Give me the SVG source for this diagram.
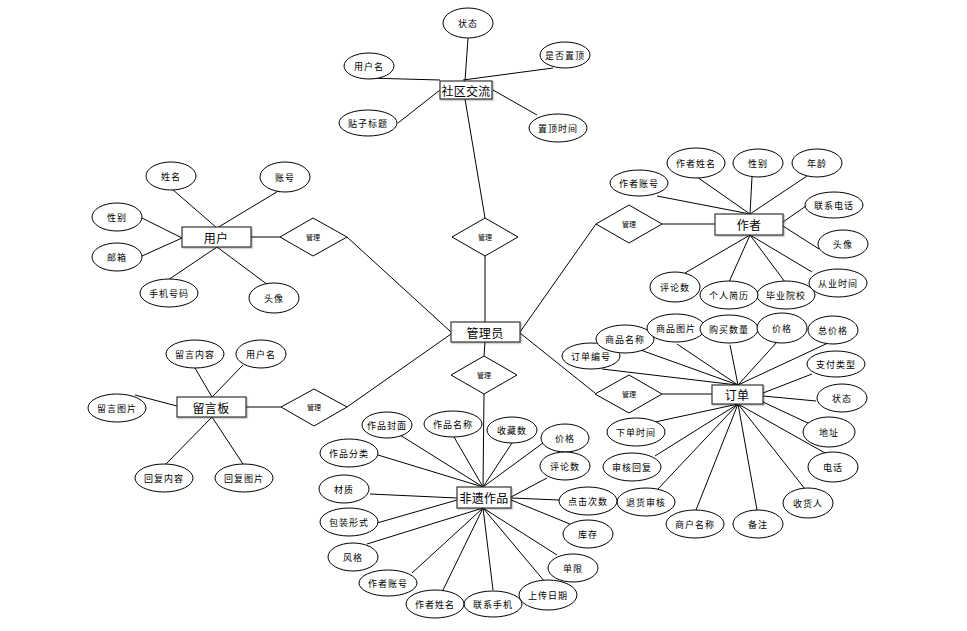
<svg xmlns="http://www.w3.org/2000/svg" width="967" height="631" viewBox="0 0 967 631">
<defs>
<filter id="sh" x="-10%" y="-20%" width="130%" height="160%">
<feDropShadow dx="1.2" dy="1.2" stdDeviation="0.7" flood-color="#000" flood-opacity="0.25"/>
</filter>
</defs>
<style>
.e{fill:#fff;stroke:#000;stroke-width:1}
.r{fill:#fff;stroke:#333;stroke-width:1.2;filter:url(#sh)}
.d{fill:#fff;stroke:#000;stroke-width:1}
.t{font-family:"Noto Sans CJK SC","Noto Sans",sans-serif;font-size:9px;letter-spacing:1px;text-anchor:middle;dominant-baseline:central;fill:#000}
.tb{font-family:"Noto Sans CJK SC","Noto Sans",sans-serif;font-size:12px;letter-spacing:0.3px;text-anchor:middle;dominant-baseline:central;fill:#000}
.td{font-family:"Noto Sans CJK SC","Noto Sans",sans-serif;font-size:7px;text-anchor:middle;dominant-baseline:central;fill:#000}
#connectors line{stroke:#000;stroke-width:1}
</style>
<rect width="967" height="631" fill="#fff"/>
<g id="connectors">
<line x1="468" y1="38" x2="465" y2="81"/>
<line x1="367" y1="78" x2="440" y2="80"/>
<line x1="553" y1="68" x2="463" y2="80"/>
<line x1="398" y1="123" x2="440" y2="90"/>
<line x1="493" y1="90" x2="537" y2="115"/>
<line x1="465" y1="99" x2="485" y2="218"/>
<line x1="485" y1="256" x2="485" y2="322"/>
<line x1="172" y1="189" x2="217" y2="228"/>
<line x1="280" y1="190" x2="217" y2="228"/>
<line x1="142" y1="218" x2="182" y2="238"/>
<line x1="142" y1="256" x2="182" y2="238"/>
<line x1="168" y1="280" x2="217" y2="247"/>
<line x1="268" y1="285" x2="217" y2="247"/>
<line x1="251" y1="237" x2="280" y2="237"/>
<line x1="347" y1="237" x2="451" y2="332"/>
<line x1="195" y1="368" x2="212" y2="397"/>
<line x1="243" y1="365" x2="212" y2="397"/>
<line x1="135" y1="395" x2="177" y2="406"/>
<line x1="166" y1="464" x2="212" y2="417"/>
<line x1="243" y1="464" x2="212" y2="417"/>
<line x1="246" y1="407" x2="281" y2="407"/>
<line x1="347" y1="407" x2="451" y2="334"/>
<line x1="657" y1="196" x2="750" y2="214"/>
<line x1="697" y1="177" x2="750" y2="214"/>
<line x1="752" y1="177" x2="750" y2="214"/>
<line x1="807" y1="176" x2="750" y2="214"/>
<line x1="806" y1="206" x2="783" y2="222"/>
<line x1="819" y1="249" x2="783" y2="226"/>
<line x1="812" y1="272" x2="750" y2="235"/>
<line x1="785" y1="282" x2="750" y2="235"/>
<line x1="729" y1="282" x2="750" y2="235"/>
<line x1="685" y1="273" x2="750" y2="235"/>
<line x1="715" y1="224" x2="662" y2="224"/>
<line x1="596" y1="224" x2="520" y2="332"/>
<line x1="602" y1="369" x2="737" y2="385"/>
<line x1="635" y1="348" x2="738" y2="385"/>
<line x1="677" y1="344" x2="738" y2="385"/>
<line x1="730" y1="345" x2="738" y2="385"/>
<line x1="777" y1="342" x2="738" y2="385"/>
<line x1="828" y1="343" x2="738" y2="385"/>
<line x1="812" y1="374" x2="763" y2="393"/>
<line x1="816" y1="401" x2="763" y2="396"/>
<line x1="810" y1="424" x2="763" y2="402"/>
<line x1="825" y1="453" x2="738" y2="404"/>
<line x1="805" y1="489" x2="738" y2="404"/>
<line x1="757" y1="510" x2="738" y2="404"/>
<line x1="696" y1="510" x2="738" y2="404"/>
<line x1="657" y1="490" x2="738" y2="404"/>
<line x1="655" y1="456" x2="738" y2="404"/>
<line x1="655" y1="422" x2="738" y2="404"/>
<line x1="662" y1="394" x2="712" y2="394"/>
<line x1="595" y1="393" x2="520" y2="333"/>
<line x1="485" y1="342" x2="484" y2="356"/>
<line x1="484" y1="394" x2="483" y2="487"/>
<line x1="400" y1="435" x2="483" y2="487"/>
<line x1="454" y1="437" x2="483" y2="487"/>
<line x1="512" y1="443" x2="483" y2="487"/>
<line x1="543" y1="443" x2="483" y2="487"/>
<line x1="378" y1="455" x2="483" y2="487"/>
<line x1="547" y1="478" x2="511" y2="497"/>
<line x1="559" y1="500" x2="511" y2="498"/>
<line x1="570" y1="524" x2="511" y2="500"/>
<line x1="370" y1="494" x2="457" y2="498"/>
<line x1="377" y1="523" x2="457" y2="500"/>
<line x1="367" y1="544" x2="483" y2="508"/>
<line x1="412" y1="573" x2="483" y2="508"/>
<line x1="443" y1="590" x2="483" y2="508"/>
<line x1="493" y1="590" x2="483" y2="508"/>
<line x1="545" y1="582" x2="483" y2="508"/>
<line x1="557" y1="555" x2="483" y2="508"/>
</g>

<g id="shequjiaoliu"><rect class="r" x="440" y="81" width="52" height="18"/><text class="tb" x="466" y="90">社区交流</text></g>
<g id="sq-zhuangtai"><ellipse class="e" cx="468" cy="23" rx="25" ry="15"/><text class="t" x="468" y="23">状态</text></g>
<g id="sq-yonghuming"><ellipse class="e" cx="369" cy="66" rx="25" ry="13"/><text class="t" x="369" y="66">用户名</text></g>
<g id="sq-shifouzhiding"><ellipse class="e" cx="565" cy="55" rx="25" ry="13"/><text class="t" x="565" y="55">是否置顶</text></g>
<g id="sq-tiezibiaoti"><ellipse class="e" cx="368" cy="123" rx="29" ry="13"/><text class="t" x="368" y="123">贴子标题</text></g>
<g id="sq-zhidingshijian"><ellipse class="e" cx="558" cy="128" rx="29" ry="14"/><text class="t" x="558" y="128">置顶时间</text></g>
<g id="dia-top"><polygon class="d" points="452,237 485,218 518,237 485,256"/><text class="td" x="485" y="237">管理</text></g>

<g id="guanliyuan"><rect class="r" x="451" y="322" width="69" height="20"/><text class="tb" x="485" y="332">管理员</text></g>
<g id="dia-mid"><polygon class="d" points="451,375 484,356 517,375 484,394"/><text class="td" x="484" y="375">管理</text></g>

<g id="yonghu"><rect class="r" x="182" y="227" width="69" height="20"/><text class="tb" x="216" y="237">用户</text></g>
<g id="yh-xingming"><ellipse class="e" cx="171" cy="176" rx="25" ry="14"/><text class="t" x="171" y="176">姓名</text></g>
<g id="yh-zhanghao"><ellipse class="e" cx="285" cy="177" rx="25" ry="15"/><text class="t" x="285" y="177">账号</text></g>
<g id="yh-xingbie"><ellipse class="e" cx="117" cy="217" rx="25" ry="14"/><text class="t" x="117" y="217">性别</text></g>
<g id="yh-youxiang"><ellipse class="e" cx="117" cy="257" rx="25" ry="14"/><text class="t" x="117" y="257">邮箱</text></g>
<g id="yh-shouji"><ellipse class="e" cx="169" cy="293" rx="29" ry="14"/><text class="t" x="169" y="293">手机号码</text></g>
<g id="yh-touxiang"><ellipse class="e" cx="274" cy="298" rx="25" ry="15"/><text class="t" x="274" y="298">头像</text></g>
<g id="dia-user"><polygon class="d" points="280,237 313,218 347,237 313,256"/><text class="td" x="313" y="237">管理</text></g>

<g id="liuyanban"><rect class="r" x="177" y="397" width="69" height="20"/><text class="tb" x="211" y="407">留言板</text></g>
<g id="ly-neirong"><ellipse class="e" cx="195" cy="354" rx="29" ry="14"/><text class="t" x="195" y="354">留言内容</text></g>
<g id="ly-yonghuming"><ellipse class="e" cx="261" cy="354" rx="25" ry="14"/><text class="t" x="261" y="354">用户名</text></g>
<g id="ly-tupian"><ellipse class="e" cx="117" cy="408" rx="29" ry="14"/><text class="t" x="117" y="408">留言图片</text></g>
<g id="ly-huifuneirong"><ellipse class="e" cx="164" cy="478" rx="29" ry="14"/><text class="t" x="164" y="478">回复内容</text></g>
<g id="ly-huifutupian"><ellipse class="e" cx="244" cy="478" rx="29" ry="14"/><text class="t" x="244" y="478">回复图片</text></g>
<g id="dia-msg"><polygon class="d" points="281,407 314,389 347,407 314,426"/><text class="td" x="314" y="407">管理</text></g>

<g id="zuozhe"><rect class="r" x="715" y="214" width="68" height="21"/><text class="tb" x="749" y="224">作者</text></g>
<g id="zz-zhanghao"><ellipse class="e" cx="639" cy="183" rx="29" ry="13"/><text class="t" x="639" y="183">作者账号</text></g>
<g id="zz-xingming"><ellipse class="e" cx="696" cy="163" rx="29" ry="15"/><text class="t" x="696" y="163">作者姓名</text></g>
<g id="zz-xingbie"><ellipse class="e" cx="758" cy="163" rx="25" ry="14"/><text class="t" x="758" y="163">性别</text></g>
<g id="zz-nianling"><ellipse class="e" cx="817" cy="163" rx="25" ry="14"/><text class="t" x="817" y="163">年龄</text></g>
<g id="zz-dianhua"><ellipse class="e" cx="834" cy="205" rx="29" ry="13"/><text class="t" x="834" y="205">联系电话</text></g>
<g id="zz-touxiang"><ellipse class="e" cx="843" cy="244" rx="25" ry="14"/><text class="t" x="843" y="244">头像</text></g>
<g id="zz-congye"><ellipse class="e" cx="838" cy="283" rx="29" ry="14"/><text class="t" x="838" y="283">从业时间</text></g>
<g id="zz-biye"><ellipse class="e" cx="786" cy="295" rx="29" ry="14"/><text class="t" x="786" y="295">毕业院校</text></g>
<g id="zz-jianli"><ellipse class="e" cx="729" cy="295" rx="29" ry="14"/><text class="t" x="729" y="295">个人简历</text></g>
<g id="zz-pinglun"><ellipse class="e" cx="675" cy="287" rx="25" ry="15"/><text class="t" x="675" y="287">评论数</text></g>
<g id="dia-author"><polygon class="d" points="596,224 629,205 662,224 629,243"/><text class="td" x="629" y="224">管理</text></g>

<g id="dingdan"><rect class="r" x="712" y="385" width="51" height="19"/><text class="tb" x="737" y="394">订单</text></g>
<g id="dd-bianhao"><ellipse class="e" cx="591" cy="356" rx="29" ry="13"/><text class="t" x="591" y="356">订单编号</text></g>
<g id="dd-mingcheng"><ellipse class="e" cx="625" cy="339" rx="29" ry="14"/><text class="t" x="625" y="339">商品名称</text></g>
<g id="dd-tupian"><ellipse class="e" cx="676" cy="328" rx="29" ry="14"/><text class="t" x="676" y="328">商品图片</text></g>
<g id="dd-shuliang"><ellipse class="e" cx="729" cy="329" rx="29" ry="14"/><text class="t" x="729" y="329">购买数量</text></g>
<g id="dd-jiage"><ellipse class="e" cx="782" cy="328" rx="25" ry="15"/><text class="t" x="782" y="328">价格</text></g>
<g id="dd-zongjiage"><ellipse class="e" cx="833" cy="330" rx="25" ry="14"/><text class="t" x="833" y="330">总价格</text></g>
<g id="dd-zhifu"><ellipse class="e" cx="836" cy="364" rx="29" ry="13"/><text class="t" x="836" y="364">支付类型</text></g>
<g id="dd-zhuangtai"><ellipse class="e" cx="842" cy="398" rx="25" ry="14"/><text class="t" x="842" y="398">状态</text></g>
<g id="dd-dizhi"><ellipse class="e" cx="829" cy="432" rx="26" ry="15"/><text class="t" x="829" y="432">地址</text></g>
<g id="dd-dianhua"><ellipse class="e" cx="833" cy="467" rx="25" ry="15"/><text class="t" x="833" y="467">电话</text></g>
<g id="dd-shouhuoren"><ellipse class="e" cx="808" cy="503" rx="25" ry="15"/><text class="t" x="808" y="503">收货人</text></g>
<g id="dd-beizhu"><ellipse class="e" cx="758" cy="524" rx="25" ry="14"/><text class="t" x="758" y="524">备注</text></g>
<g id="dd-shanghu"><ellipse class="e" cx="695" cy="524" rx="29" ry="14"/><text class="t" x="695" y="524">商户名称</text></g>
<g id="dd-tuihuo"><ellipse class="e" cx="646" cy="502" rx="29" ry="14"/><text class="t" x="646" y="502">退货审核</text></g>
<g id="dd-shenhe"><ellipse class="e" cx="632" cy="467" rx="29" ry="14"/><text class="t" x="632" y="467">审核回复</text></g>
<g id="dd-xiadan"><ellipse class="e" cx="636" cy="432" rx="29" ry="14"/><text class="t" x="636" y="432">下单时间</text></g>
<g id="dia-order"><polygon class="d" points="595,394 629,375 662,394 629,413"/><text class="td" x="629" y="394">管理</text></g>

<g id="feiyizuopin"><rect class="r" x="457" y="487" width="54" height="21"/><text class="tb" x="484" y="497">非遗作品</text></g>
<g id="zp-fengmian"><ellipse class="e" cx="387" cy="425" rx="25" ry="13"/><text class="t" x="387" y="425">作品封面</text></g>
<g id="zp-mingcheng"><ellipse class="e" cx="453" cy="424" rx="29" ry="13"/><text class="t" x="453" y="424">作品名称</text></g>
<g id="zp-shoucang"><ellipse class="e" cx="512" cy="430" rx="25" ry="13"/><text class="t" x="512" y="430">收藏数</text></g>
<g id="zp-jiage"><ellipse class="e" cx="565" cy="438" rx="24" ry="14"/><text class="t" x="565" y="438">价格</text></g>
<g id="zp-pinglun"><ellipse class="e" cx="565" cy="466" rx="25" ry="14"/><text class="t" x="565" y="466">评论数</text></g>
<g id="zp-dianji"><ellipse class="e" cx="588" cy="501" rx="29" ry="14"/><text class="t" x="588" y="501">点击次数</text></g>
<g id="zp-kucun"><ellipse class="e" cx="588" cy="534" rx="25" ry="14"/><text class="t" x="588" y="534">库存</text></g>
<g id="zp-danxian"><ellipse class="e" cx="573" cy="568" rx="25" ry="14"/><text class="t" x="573" y="568">单限</text></g>
<g id="zp-shangchuan"><ellipse class="e" cx="548" cy="595" rx="29" ry="15"/><text class="t" x="548" y="595">上传日期</text></g>
<g id="zp-shouji"><ellipse class="e" cx="493" cy="604" rx="29" ry="13"/><text class="t" x="493" y="604">联系手机</text></g>
<g id="zp-xingming"><ellipse class="e" cx="435" cy="604" rx="29" ry="14"/><text class="t" x="435" y="604">作者姓名</text></g>
<g id="zp-zhanghao"><ellipse class="e" cx="388" cy="583" rx="29" ry="13"/><text class="t" x="388" y="583">作者账号</text></g>
<g id="zp-fengge"><ellipse class="e" cx="353" cy="557" rx="25" ry="14"/><text class="t" x="353" y="557">风格</text></g>
<g id="zp-baozhuang"><ellipse class="e" cx="349" cy="522" rx="29" ry="14"/><text class="t" x="349" y="522">包装形式</text></g>
<g id="zp-caizhi"><ellipse class="e" cx="344" cy="489" rx="25" ry="14"/><text class="t" x="344" y="489">材质</text></g>
<g id="zp-fenlei"><ellipse class="e" cx="349" cy="453" rx="29" ry="14"/><text class="t" x="349" y="453">作品分类</text></g>
</svg>
